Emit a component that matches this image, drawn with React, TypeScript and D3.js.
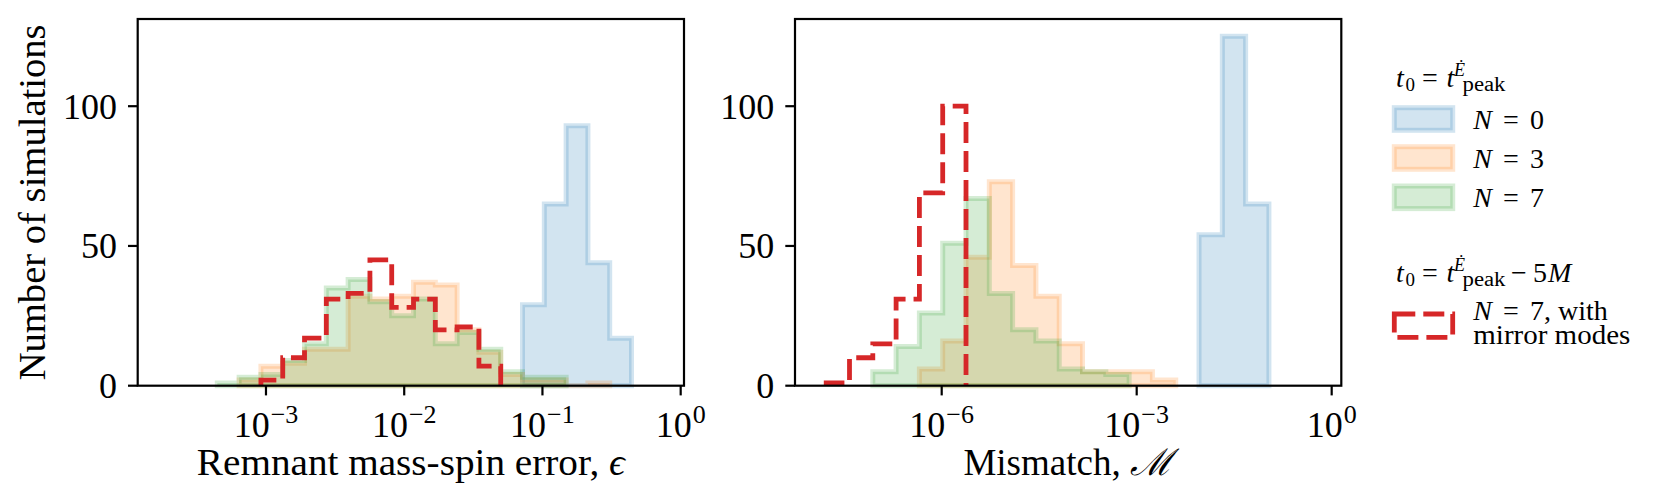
import * as d3 from "d3";

// shared log-spaced bins (19 bins per panel), given as log10 start and width
const nBins = 19;
const epsBinLogStart = -3.352;
const epsBinLogWidth = 0.1577;
const misBinLogStart = -7.777;
const misBinLogWidth = 0.3585;

// left panel: remnant mass-spin error counts
const epsN0 = [0, 0, 0, 0, 0, 0, 0, 0, 0, 0, 0, 0, 0, 0, 29, 65, 93, 44, 17];
const epsN3 = [0, 2, 7, 8, 13, 13, 32, 31, 32, 37, 36, 20, 12, 4, 2, 2, 0, 1, 0];
const epsN7 = [1, 3, 4, 9, 15, 35, 38, 30, 25, 31, 15, 19, 13, 5, 3, 3, 0, 0, 0];
const epsN7Mirror = [0, 0, 2, 10, 17, 31, 33, 45, 28, 31, 20, 21, 7, 0, 0, 0, 0, 0, 0];

// right panel: mismatch counts
const misN0 = [0, 0, 0, 0, 0, 0, 0, 0, 0, 0, 0, 0, 0, 0, 0, 0, 54, 125, 65];
const misN3 = [0, 0, 0, 0, 6, 16, 46, 73, 43, 32, 15, 5, 5, 5, 2, 0, 0, 0, 0];
const misN7 = [0, 0, 5, 14, 26, 51, 67, 33, 20, 16, 6, 5, 4, 0, 0, 0, 0, 0, 0];
const misN7Mirror = [1, 10, 15, 31, 69, 100, 0, 0, 0, 0, 0, 0, 0, 0, 0, 0, 0, 0, 0];

const yTicks = [0, 50, 100];
const epsTickExps = [-3, -2, -1, 0];
const misTickExps = [-6, -3, 0];

const seriesNs = ["0", "3", "7"];
const seriesColors = ["#1f77b4", "#ff7f0e", "#2ca02c"];
const mirrorColor = "#d62728";

const FONT = '"Liberation Serif", "DejaVu Serif", "Times New Roman", serif';
const W = 1660;
const H = 502;
const plotTop = 19;
const plotBottom = 385.7;
const tickLen = 9.7;

const yScale = d3.scaleLinear().domain([0, 131.2]).range([plotBottom, plotTop]);

type Series = { counts: number[]; color: string };

function binEdges(start: number, width: number): number[] {
  return d3.range(nBins + 1).map((i) => Math.pow(10, start + i * width));
}

function stepPoints(counts: number[], edges: number[]): [number, number][] {
  const first = counts.findIndex((c) => c > 0);
  let last = counts.length - 1;
  while (last > 0 && counts[last] === 0) last--;
  const pts: [number, number][] = [[edges[first], 0]];
  for (let i = first; i <= last; i++) {
    pts.push([edges[i], counts[i]]);
    pts.push([edges[i + 1], counts[i]]);
  }
  pts.push([edges[last + 1], 0]);
  return pts;
}

function Panel({
  left,
  right,
  logDomain,
  tickExps,
  binStart,
  binWidth,
  filled,
  mirror,
  xLabel,
  xLabelLength,
}: {
  left: number;
  right: number;
  logDomain: [number, number];
  tickExps: number[];
  binStart: number;
  binWidth: number;
  filled: Series[];
  mirror: number[];
  xLabel: React.ReactNode;
  xLabelLength?: number;
}) {
  const x = d3
    .scaleLog()
    .domain([Math.pow(10, logDomain[0]), Math.pow(10, logDomain[1])])
    .range([left, right]);
  const edges = binEdges(binStart, binWidth);
  const line = d3
    .line<[number, number]>()
    .x((d) => x(d[0]))
    .y((d) => yScale(d[1]));
  const cx = (left + right) / 2;

  return (
    <g>
      {filled.map((s, i) => (
        <path
          key={i}
          d={line(stepPoints(s.counts, edges)) + "Z"}
          fill={s.color}
          fillOpacity={0.2}
          stroke={s.color}
          strokeOpacity={0.2}
          strokeWidth={5}
        />
      ))}
      <path
        d={line(stepPoints(mirror, edges)) ?? ""}
        fill="none"
        stroke={mirrorColor}
        strokeWidth={4.8}
        strokeDasharray="21,8"
      />
      <rect
        x={left}
        y={plotTop}
        width={right - left}
        height={plotBottom - plotTop}
        fill="none"
        stroke="#000"
        strokeWidth={2.2}
      />
      {yTicks.map((t) => (
        <g key={t}>
          <line
            x1={left - tickLen}
            x2={left}
            y1={yScale(t)}
            y2={yScale(t)}
            stroke="#000"
            strokeWidth={2.2}
          />
          <text x={left - tickLen - 11} y={yScale(t) + 12.5} textAnchor="end" fontSize={36}>
            {t}
          </text>
        </g>
      ))}
      {tickExps.map((e) => (
        <g key={e}>
          <line
            x1={x(Math.pow(10, e))}
            x2={x(Math.pow(10, e))}
            y1={plotBottom}
            y2={plotBottom + tickLen}
            stroke="#000"
            strokeWidth={2.2}
          />
          <text x={x(Math.pow(10, e))} y={436.5} textAnchor="middle" fontSize={36}>
            10
            <tspan dy={-14} dx={1} fontSize={26}>
              {e === 0 ? "0" : `\u2212${-e}`}
            </tspan>
          </text>
        </g>
      ))}
      <text
        x={cx}
        y={475}
        textAnchor="middle"
        fontSize={37}
        textLength={xLabelLength}
        lengthAdjust={xLabelLength ? "spacingAndGlyphs" : undefined}
      >
        {xLabel}
      </text>
    </g>
  );
}

// t0 = t^{Ė}_{peak} (optionally − 5M), each piece placed on its own
function TitleT0({ y, suffix }: { y: number; suffix?: boolean }) {
  return (
    <g fontSize={28}>
      <text x={1396} y={y} fontStyle="italic">
        t
      </text>
      <text x={1405.5} y={y + 4} fontSize={19}>
        0
      </text>
      <text x={1422} y={y}>
        =
      </text>
      <text x={1446.5} y={y} fontStyle="italic">
        t
      </text>
      <text x={1454} y={y - 11} fontSize={18} fontStyle="italic">
        Ė
      </text>
      <text x={1462.5} y={y + 4} fontSize={20} textLength={43} lengthAdjust="spacingAndGlyphs">
        peak
      </text>
      {suffix && (
        <>
          <text x={1511} y={y}>
            {"\u2212"}
          </text>
          <text x={1533} y={y}>
            5
          </text>
          <text x={1548} y={y} fontStyle="italic">
            M
          </text>
        </>
      )}
    </g>
  );
}

function NEquals({ y, n }: { y: number; n: string }) {
  return (
    <g fontSize={28}>
      <text x={1473.3} y={y} fontStyle="italic">
        N
      </text>
      <text x={1503} y={y}>
        =
      </text>
      <text x={1530} y={y}>
        {n}
      </text>
    </g>
  );
}

function Legend() {
  const px = 1394.3;
  const pw = 58.4;
  const ph = 22.6;
  const rows = [107.7, 146.7, 186];
  return (
    <g>
      <TitleT0 y={86.7} />
      {rows.map((ry, i) => (
        <g key={i}>
          <rect
            x={px}
            y={ry}
            width={pw}
            height={ph}
            fill={seriesColors[i]}
            fillOpacity={0.2}
            stroke={seriesColors[i]}
            strokeOpacity={0.2}
            strokeWidth={5}
          />
          <NEquals y={ry + ph / 2 + 9.5} n={seriesNs[i]} />
        </g>
      ))}
      <TitleT0 y={281.7} suffix />
      <rect
        x={px}
        y={314}
        width={pw}
        height={23.3}
        fill="none"
        stroke={mirrorColor}
        strokeWidth={4.8}
        strokeDasharray="21,8"
      />
      <NEquals y={320} n="7, with" />
      <text x={1473.3} y={344} fontSize={27} textLength={157} lengthAdjust="spacingAndGlyphs">
        mirror modes
      </text>
    </g>
  );
}

export default function App() {
  return (
    <svg
      width={W}
      height={H}
      viewBox={`0 0 ${W} ${H}`}
      style={{ position: "absolute", left: 0, top: 0, background: "#fff", fontFamily: FONT }}
    >
      <rect width={W} height={H} fill="#fff" />
      <Panel
        left={137.7}
        right={684}
        logDomain={[-3.928, 0.024]}
        tickExps={epsTickExps}
        binStart={epsBinLogStart}
        binWidth={epsBinLogWidth}
        filled={[
          { counts: epsN0, color: seriesColors[0] },
          { counts: epsN3, color: seriesColors[1] },
          { counts: epsN7, color: seriesColors[2] },
        ]}
        mirror={epsN7Mirror}
        xLabelLength={428}
        xLabel={
          <>
            {"Remnant mass-spin error, "}
            <tspan fontStyle="italic">ϵ</tspan>
          </>
        }
      />
      <Panel
        left={795}
        right={1341.3}
        logDomain={[-8.257, 0.148]}
        tickExps={misTickExps}
        binStart={misBinLogStart}
        binWidth={misBinLogWidth}
        filled={[
          { counts: misN0, color: seriesColors[0] },
          { counts: misN3, color: seriesColors[1] },
          { counts: misN7, color: seriesColors[2] },
        ]}
        mirror={misN7Mirror}
        xLabel={
          <>
            {"Mismatch, "}
            <tspan style={{ fontFamily: '"DejaVu Serif", serif' }} fontStyle="italic">
              ℳ
            </tspan>
          </>
        }
      />
      <text
        transform={`translate(45,${(plotTop + plotBottom) / 2}) rotate(-90)`}
        textAnchor="middle"
        fontSize={37}
        textLength={356}
        lengthAdjust="spacingAndGlyphs"
      >
        Number of simulations
      </text>
      <Legend />
    </svg>
  );
}
